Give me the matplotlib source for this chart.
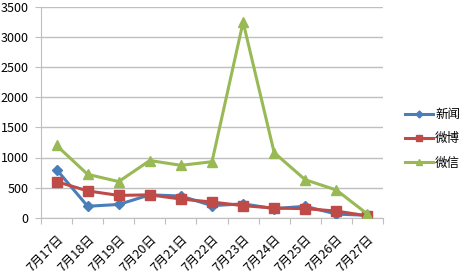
import matplotlib
matplotlib.use('Agg')
import matplotlib.pyplot as plt
import matplotlib.transforms as mtrans
import numpy as np

plt.rcParams['font.family'] = ['Noto Sans CJK SC', 'DejaVu Sans']

# данные
dates = ['7月17日', '7月18日', '7月19日', '7月20日', '7月21日', '7月22日',
         '7月23日', '7月24日', '7月25日', '7月26日', '7月27日']
news = [800, 190, 220, 380, 360, 200, 230, 150, 190, 60, 40]
weibo = [600, 445, 370, 380, 310, 260, 200, 160, 150, 110, 30]
weixin = [1200, 720, 600, 950, 870, 930, 3250, 1080, 630, 460, 60]

grid_c = '#bfbfbf'

fig = plt.figure(figsize=(4.67, 2.75), dpi=100)
ax = fig.add_axes([41 / 467, 1 - 217.7 / 275, 342 / 467, 210.7 / 275])

x = np.arange(len(dates))
ax.plot(x, news, color='#4a7ebb', lw=2.2, marker='D', ms=5, label='新闻', zorder=3)
ax.plot(x, weibo, color='#be4b48', lw=2.2, marker='s', ms=6.5, label='微博', zorder=4)
ax.plot(x, weixin, color='#98b954', lw=2.2, marker='^', ms=7, label='微信', zorder=5)

ax.set_xlim(-0.5, len(dates) - 0.5)
ax.set_ylim(0, 3500)
ax.set_yticks(range(0, 3501, 500))
ax.yaxis.grid(True, color=grid_c, lw=1)
ax.set_axisbelow(True)

# тики между категориями, подписи по центру
ax.set_xticks(np.arange(-0.5, len(dates), 1))
ax.set_xticklabels([])
ax.set_xticks(x, minor=True)
ax.set_xticklabels(dates, minor=True, rotation=45, ha='right', va='top',
                   rotation_mode='anchor', fontsize=9)
shift = mtrans.ScaledTranslation(5 / 100, 0, fig.dpi_scale_trans)
for lbl in ax.get_xticklabels(minor=True):
    lbl.set_transform(lbl.get_transform() + shift)
ax.tick_params(axis='x', which='minor', length=0, pad=11)
ax.tick_params(axis='x', which='major', length=4, color=grid_c)
ax.tick_params(axis='y', length=4, color=grid_c, labelsize=9, pad=5)

for s in ['top', 'right']:
    ax.spines[s].set_visible(False)
for s in ['left', 'bottom']:
    ax.spines[s].set_color(grid_c)

fig.legend(loc='upper left', bbox_to_anchor=(400 / 467, 1 - 103 / 275),
           frameon=False, fontsize=9, handlelength=2.2, handletextpad=0.2,
           labelspacing=0.9, borderaxespad=0, markerscale=0.7)

fig.savefig('out.png', dpi=100)
